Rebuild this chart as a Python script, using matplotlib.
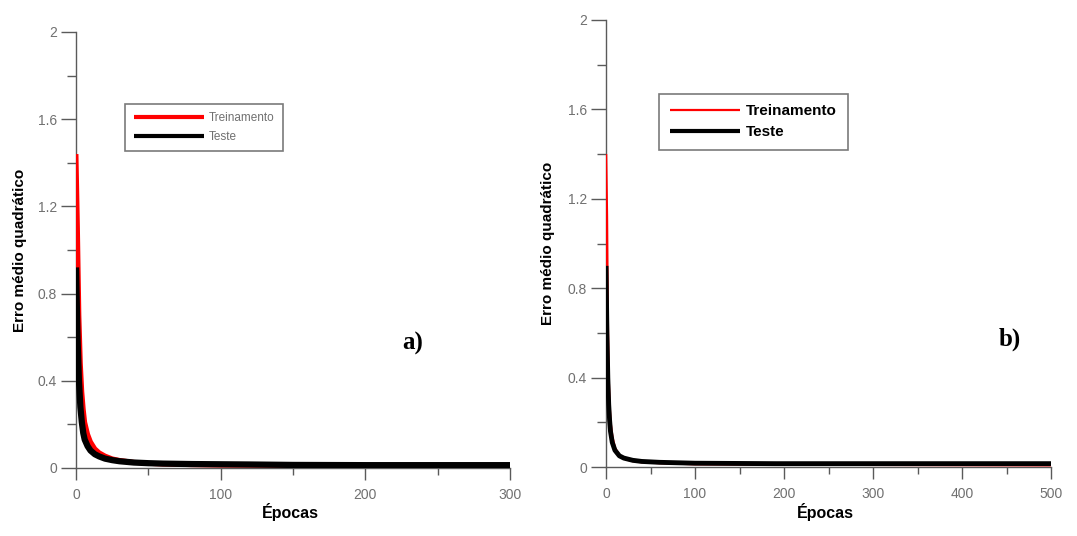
import matplotlib
matplotlib.use("Agg")
import matplotlib.pyplot as plt
from matplotlib.ticker import MultipleLocator

# ----------------------------
# Data
# ----------------------------
# panel a) 300 epochs
a_epochs_train = [0, 1, 2, 3, 4, 5, 6, 8, 10, 13, 16, 20, 25, 30, 40, 50, 60, 80, 100, 150, 200, 300]
a_train = [1.44, 1.10, 0.70, 0.48, 0.35, 0.27, 0.21, 0.155, 0.12, 0.088, 0.07, 0.055, 0.042,
           0.035, 0.026, 0.021, 0.018, 0.015, 0.013, 0.012, 0.011, 0.010]
a_epochs_test = [0, 1, 2, 3, 4, 5, 6, 8, 10, 13, 16, 20, 25, 30, 40, 50, 60, 80, 100, 120, 150, 200, 300]
a_test = [0.92, 0.60, 0.40, 0.28, 0.21, 0.16, 0.13, 0.10, 0.08, 0.063, 0.053, 0.043, 0.036,
          0.031, 0.025, 0.022, 0.020, 0.018, 0.017, 0.016, 0.014, 0.013, 0.013]

# panel b) 500 epochs
b_epochs_train = [0, 1, 2, 3, 4, 5, 7, 10, 15, 20, 30, 40, 60, 100, 200, 300, 400, 500]
b_train = [1.40, 1.12, 0.62, 0.38, 0.27, 0.20, 0.135, 0.085, 0.052, 0.038, 0.027, 0.022,
           0.018, 0.013, 0.011, 0.010, 0.009, 0.008]
b_epochs_test = [0, 1, 2, 3, 4, 5, 7, 10, 15, 20, 30, 40, 60, 100, 190, 300, 400, 500]
b_test = [0.90, 0.60, 0.40, 0.28, 0.21, 0.16, 0.11, 0.075, 0.05, 0.04, 0.03, 0.025,
          0.021, 0.017, 0.015, 0.015, 0.015, 0.015]

labels = ["Treinamento", "Teste"]

AXIS_COLOR = "#5a5a5a"
TICK_TEXT = "#707070"

fig = plt.figure(figsize=(10.77, 5.36), dpi=100)
fig.patch.set_facecolor("white")

ax_a = fig.add_axes([0.0706, 0.1269, 0.4030, 0.8134])
ax_b = fig.add_axes([0.5627, 0.1287, 0.4132, 0.8340])

panels = [
    (ax_a, a_epochs_train, a_train, a_epochs_test, a_test, 300, "a)",
     dict(lw_train=3.5, lw_test=4.5, leg_lw=(3.0, 3.0), fs=8.5, weight="normal",
          anchor=(0.100, 0.848), hl=6.0, ls=0.55, txt=TICK_TEXT)),
    (ax_b, b_epochs_train, b_train, b_epochs_test, b_test, 500, "b)",
     dict(lw_train=1.8, lw_test=3.5, leg_lw=(1.6, 3.0), fs=11, weight="bold",
          anchor=(0.102, 0.852), hl=4.6, ls=0.45, txt="black")),
]

for ax, xtr, ytr, xte, yte, xmax, tag, st in panels:
    ax.plot(xtr, ytr, color="red", lw=st["lw_train"], label=labels[0],
            solid_capstyle="butt", zorder=4)
    ax.plot(xte, yte, color="black", lw=st["lw_test"], label=labels[1],
            solid_capstyle="butt", zorder=5)

    ax.set_xlim(0, xmax)
    ax.set_ylim(0, 2)
    ax.xaxis.set_major_locator(MultipleLocator(100))
    ax.xaxis.set_minor_locator(MultipleLocator(50))
    ax.yaxis.set_minor_locator(MultipleLocator(0.2))
    ax.set_yticks([0, 0.4, 0.8, 1.2, 1.6, 2])
    ax.set_yticklabels(["0", "0.4", "0.8", "1.2", "1.6", "2"])

    for side in ["top", "right"]:
        ax.spines[side].set_visible(False)
    for side in ["left", "bottom"]:
        ax.spines[side].set_color(AXIS_COLOR)
        ax.spines[side].set_linewidth(1.0)
        ax.spines[side].set_zorder(2)

    ax.tick_params(axis="y", which="major", direction="out", length=10.8, width=1.0,
                   color=AXIS_COLOR, labelcolor=TICK_TEXT, labelsize=10, pad=3)
    ax.tick_params(axis="y", which="minor", direction="out", length=6.5, width=1.0, color=AXIS_COLOR)
    ax.tick_params(axis="x", which="major", direction="out", length=8.6, width=1.0,
                   color=AXIS_COLOR, labelcolor=TICK_TEXT, labelsize=10, pad=6)
    ax.tick_params(axis="x", which="minor", direction="out", length=5, width=1.0, color=AXIS_COLOR)
    for t in ax.get_xticklabels() + ax.get_yticklabels():
        t.set_family("Liberation Sans")

    ax.set_xlabel("Épocas", fontsize=11.5, fontweight="bold", family="Liberation Sans")
    ax.set_ylabel("Erro médio quadrático", fontsize=11, fontweight="bold", family="Liberation Sans")
    ax.xaxis.set_label_coords(0.494, -0.101)
    ax.xaxis.label.set_va("center")
    ax.yaxis.set_label_coords(-0.13, 0.5)
    ax.yaxis.label.set_va("center")

    ax.text(0.775 if xmax == 300 else 0.908, 0.285, tag, transform=ax.transAxes,
            fontsize=18, fontweight="bold", family="Liberation Serif", ha="center", va="center")

    leg = ax.legend(loc="upper left", bbox_to_anchor=st["anchor"], fancybox=False,
                    framealpha=1, edgecolor="#7a7a7a", handlelength=st["hl"],
                    prop={"family": "Liberation Sans", "size": st["fs"], "weight": st["weight"]},
                    borderpad=0.7, labelspacing=st["ls"], handletextpad=0.4)
    leg.get_frame().set_linewidth(1.2)
    for t in leg.get_texts():
        t.set_color(st["txt"])
    for h, lw in zip(leg.get_lines(), st["leg_lw"]):
        h.set_linewidth(lw)

plt.savefig("out.png", dpi=100, facecolor="white")
plt.close()
